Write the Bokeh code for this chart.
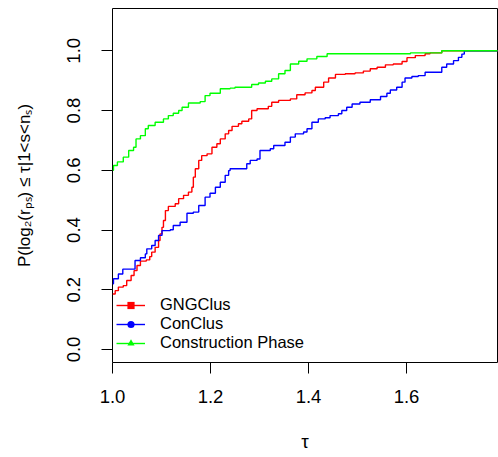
from bokeh.plotting import figure
from bokeh.models import Range1d, FixedTicker, PrintfTickFormatter, Legend, LegendItem
from bokeh.embed import file_html
from bokeh.resources import INLINE

# ---- data ----
gng_x = [1.000, 1.0055, 1.012, 1.022, 1.029, 1.038, 1.044, 1.050, 1.057, 1.069, 1.076, 1.080,
         1.087, 1.094, 1.097, 1.101, 1.104, 1.108, 1.114, 1.128, 1.135, 1.145, 1.155, 1.162,
         1.165, 1.169, 1.176, 1.182, 1.193, 1.203, 1.213, 1.220, 1.230, 1.237, 1.244, 1.257,
         1.264, 1.278, 1.284, 1.295, 1.318, 1.325, 1.339, 1.363, 1.376, 1.393, 1.407, 1.414,
         1.431, 1.441, 1.455, 1.475, 1.495, 1.512, 1.526, 1.540, 1.557, 1.573, 1.591, 1.601,
         1.618, 1.638, 1.648, 1.672, 1.80]
gng_y = [0.186, 0.197, 0.209, 0.214, 0.231, 0.248, 0.264, 0.281, 0.296, 0.300, 0.311, 0.326,
         0.342, 0.365, 0.387, 0.409, 0.432, 0.465, 0.479, 0.488, 0.505, 0.516, 0.527, 0.543,
         0.577, 0.605, 0.633, 0.649, 0.655, 0.677, 0.689, 0.705, 0.722, 0.733, 0.747, 0.756,
         0.764, 0.772, 0.800, 0.806, 0.814, 0.828, 0.834, 0.839, 0.853, 0.859, 0.867, 0.878,
         0.895, 0.909, 0.921, 0.923, 0.926, 0.932, 0.940, 0.945, 0.953, 0.956, 0.964, 0.977,
         0.984, 0.990, 0.993, 1.000, 1.000]

con_x = [1.000, 1.002, 1.012, 1.021, 1.046, 1.057, 1.067, 1.070, 1.080, 1.087, 1.094, 1.101,
         1.118, 1.124, 1.138, 1.152, 1.165, 1.176, 1.189, 1.199, 1.210, 1.220, 1.230, 1.237,
         1.240, 1.274, 1.281, 1.295, 1.301, 1.322, 1.329, 1.352, 1.363, 1.373, 1.390, 1.397,
         1.407, 1.420, 1.434, 1.444, 1.461, 1.468, 1.478, 1.489, 1.505, 1.526, 1.547, 1.560,
         1.567, 1.580, 1.591, 1.597, 1.611, 1.624, 1.638, 1.672, 1.682, 1.696, 1.706, 1.713,
         1.718, 1.80]
con_y = [0.220, 0.237, 0.253, 0.269, 0.298, 0.307, 0.320, 0.337, 0.348, 0.365, 0.382, 0.398,
         0.401, 0.415, 0.426, 0.456, 0.460, 0.482, 0.510, 0.523, 0.543, 0.560, 0.583, 0.599,
         0.605, 0.622, 0.633, 0.638, 0.666, 0.672, 0.683, 0.694, 0.711, 0.722, 0.728, 0.739,
         0.761, 0.772, 0.776, 0.783, 0.789, 0.800, 0.811, 0.822, 0.828, 0.836, 0.847, 0.858,
         0.869, 0.878, 0.895, 0.909, 0.914, 0.917, 0.928, 0.945, 0.956, 0.967, 0.978, 0.989,
         1.000, 1.000]

cp_x = [1.000, 1.002, 1.010, 1.022, 1.033, 1.043, 1.048, 1.057, 1.067, 1.073, 1.087, 1.104,
        1.114, 1.124, 1.135, 1.142, 1.155, 1.179, 1.189, 1.199, 1.220, 1.240, 1.250, 1.284,
        1.298, 1.312, 1.325, 1.339, 1.352, 1.363, 1.380, 1.397, 1.417, 1.438, 1.608, 1.672,
        1.80]
cp_y = [0.600, 0.616, 0.628, 0.644, 0.666, 0.677, 0.705, 0.716, 0.739, 0.750, 0.761, 0.772,
        0.783, 0.791, 0.800, 0.811, 0.825, 0.830, 0.850, 0.858, 0.873, 0.875, 0.878, 0.887,
        0.892, 0.898, 0.906, 0.923, 0.934, 0.956, 0.965, 0.973, 0.981, 0.990, 0.993, 1.000,
        1.000]

series_names = ["GNGClus", "ConClus", "Construction Phase"]
series_colors = ["#FF0000", "#0000FF", "#00FF00"]
series_markers = ["square", "circle", "triangle"]

x_ticks = [1.0, 1.2, 1.4, 1.6]
y_ticks = [0.0, 0.2, 0.4, 0.6, 0.8, 1.0]
x_label = "τ"
y_label = "P(log₂(rₚₛ) ≤ τ|1<s<nₛ)"

FONT = "Liberation Sans"

p = figure(width=498, height=457, output_backend="svg", toolbar_location=None,
           x_range=Range1d(1.0, 1.0 + 385 / 490.0),
           y_range=Range1d(-0.0435, 1.1416),
           min_border_left=112, min_border_right=1, min_border_top=8, min_border_bottom=95)

p.grid.visible = False
p.outline_line_color = "black"
p.outline_line_width = 1
p.background_fill_color = "white"
p.border_fill_color = "white"

for ax in (p.xaxis[0], p.yaxis[0]):
    ax.axis_line_color = None
    ax.major_tick_in = 0
    ax.major_tick_out = 11
    ax.major_tick_line_color = "black"
    ax.minor_tick_line_color = None
    ax.major_label_text_font = FONT
    ax.major_label_text_font_size = "18.5px"
    ax.major_label_text_color = "black"
    ax.axis_label_text_font = FONT
    ax.axis_label_text_font_style = "normal"
    ax.axis_label_text_color = "black"
    ax.formatter = PrintfTickFormatter(format="%.1f")

p.xaxis.ticker = FixedTicker(ticks=x_ticks)
p.yaxis.ticker = FixedTicker(ticks=y_ticks)
p.xaxis.major_label_standoff = 16
p.yaxis.major_label_standoff = 21
p.yaxis.major_label_orientation = "vertical"
p.xaxis.axis_label = x_label
p.yaxis.axis_label = y_label
p.xaxis.axis_label_text_font_size = "19px"
p.yaxis.axis_label_text_font_size = "17px"
p.xaxis.axis_label_standoff = 25
p.yaxis.axis_label_standoff = 31

items = []
for (xs, ys), name, col, mk in zip([(gng_x, gng_y), (con_x, con_y), (cp_x, cp_y)],
                                   series_names, series_colors, series_markers):
    r_line = p.step(xs, ys, mode="after", line_color=col, line_width=1.4)
    r_mark = p.scatter(xs, ys, marker=mk, size=0, fill_color=col, line_alpha=0)
    items.append(LegendItem(label=name, renderers=[r_line, r_mark]))

legend = Legend(items=items, location=(4, 10), padding=0, spacing=0, margin=0,
                glyph_width=29, glyph_height=18, label_height=18, label_standoff=15,
                border_line_color=None, background_fill_alpha=0,
                label_text_font=FONT, label_text_font_size="16.5px", label_text_color="black")
p.add_layout(legend)

open("out.html", "w").write(file_html(p, INLINE))
